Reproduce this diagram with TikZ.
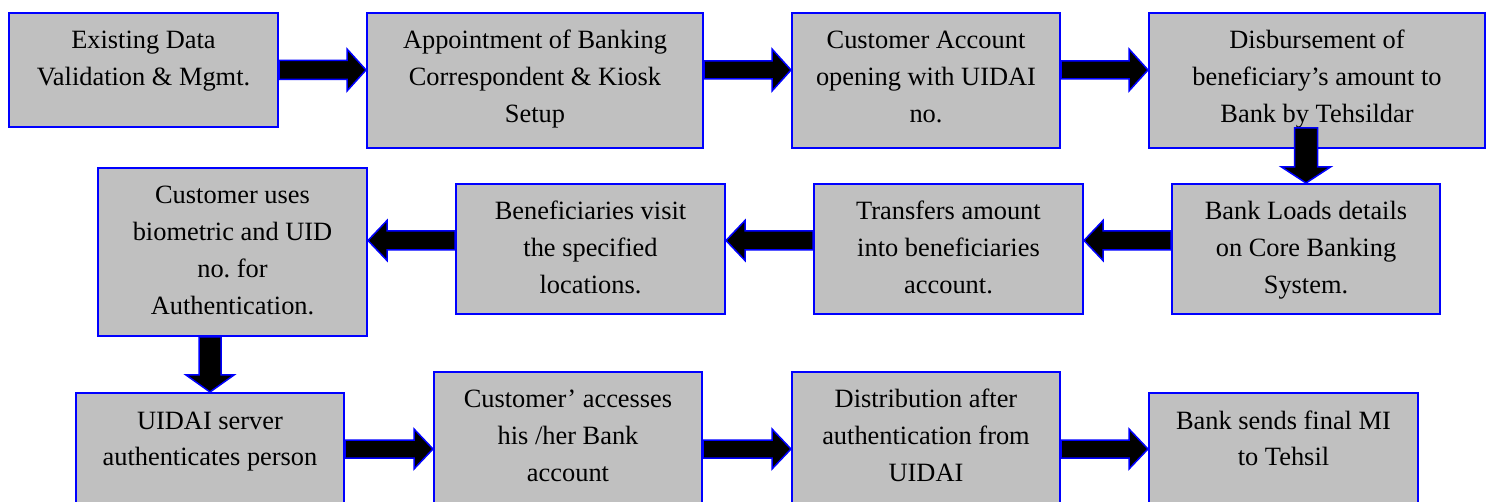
\documentclass[tikz,border=0pt]{standalone}
\usepackage{fontspec}
\setmainfont{Liberation Serif}
\usetikzlibrary{calc}
\frenchspacing
\definecolor{boxgray}{HTML}{C0C0C0}
\definecolor{boxblue}{HTML}{0000FF}
\newcommand\boxcontent[3]{\parbox[c][#2pt][t]{#1pt}{\centering\fontsize{26.4}{36.7}\selectfont\rule{0pt}{36pt}#3}}
% #1 start, #2 tip, #3 shaft half width, #4 head half width, #5 head length
\newcommand\blockarrow[5]{%
  \coordinate (bahead) at ($(#2)!#5!(#1)$);
  \draw[barrow] ($(#1)!#3!90:(#2)$) -- ($(bahead)!#3!-90:(#1)$) -- ($(bahead)!#4!-90:(#1)$) -- (#2)
    -- ($(bahead)!#4!90:(#1)$) -- ($(bahead)!#3!90:(#1)$) -- ($(#1)!#3!-90:(#2)$) -- cycle;}
\begin{document}
\begin{tikzpicture}[x=1pt,y=-1pt,
  flowbox/.style={draw=boxblue, fill=boxgray, line width=2pt, inner sep=0pt, anchor=north west},
  barrow/.style={fill=black, draw=boxblue, line width=1.5pt, line join=miter}]
\useasboundingbox (0,0) rectangle (1486,502);
% row 1
\node[flowbox] (b1) at (8,12) {\boxcontent{269}{114}{Existing Data\\Validation \& Mgmt.}};
\node[flowbox] (b2) at (366,12) {\boxcontent{336}{135}{Appointment of Banking\\Correspondent \& Kiosk\\Setup}};
\node[flowbox] (b3) at (791,12) {\boxcontent{268}{135}{Customer Account\\opening with UIDAI\\no.}};
\node[flowbox] (b4) at (1148,12) {\boxcontent{336}{135}{Disbursement of\\beneficiary’s amount to\\Bank by Tehsildar}};
% row 2
\node[flowbox] (b5) at (1171,183) {\boxcontent{268}{130}{Bank Loads details\\on Core Banking\\System.}};
\node[flowbox] (b6) at (813,183) {\boxcontent{269}{130}{Transfers amount\\into beneficiaries\\account.}};
\node[flowbox] (b7) at (455,183) {\boxcontent{269}{130}{Beneficiaries visit\\the specified\\locations.}};
\node[flowbox] (b8) at (97,167) {\boxcontent{269}{168}{Customer uses\\biometric and UID\\no. for\\Authentication.}};
% row 3
\node[flowbox] (b9) at (75,392) {\boxcontent{268}{120}{UIDAI server\\authenticates person}};
\node[flowbox] (b10) at (433,371) {\boxcontent{268}{141}{Customer’ accesses\\his /her Bank\\account}};
\node[flowbox] (b11) at (791,371) {\boxcontent{268}{141}{Distribution after\\authentication from\\UIDAI}};
\node[flowbox] (b12) at (1148,392) {\boxcontent{269}{120}{Bank sends final MI\\to Tehsil}};
% arrow levels
\coordinate (r2) at (0,240.5);
\coordinate (r3) at (0,449);
% row 1 arrows
\blockarrow{b1.east}{b2.west |- b1.east}{9.5pt}{21pt}{19pt}
\blockarrow{b2.east |- b1.east}{b3.west |- b1.east}{9pt}{21pt}{19pt}
\blockarrow{b3.east |- b1.east}{b4.west |- b1.east}{9pt}{21pt}{19pt}
% down to row 2
\blockarrow{b5.north |- b1.south}{b5.north}{11.5pt}{24.5pt}{16pt}
% row 2 arrows
\blockarrow{b5.west |- r2}{b6.east |- r2}{9.5pt}{20pt}{19pt}
\blockarrow{b6.west |- r2}{b7.east |- r2}{9.5pt}{20pt}{19pt}
\blockarrow{b7.west |- r2}{b8.east |- r2}{9.5pt}{20pt}{19pt}
% down to row 3
\blockarrow{b9.north |- b8.south}{b9.north}{11pt}{24pt}{17pt}
% row 3 arrows
\blockarrow{b9.east |- r3}{b10.west |- r3}{9pt}{20pt}{19pt}
\blockarrow{b10.east |- r3}{b11.west |- r3}{9pt}{20pt}{19pt}
\blockarrow{b11.east |- r3}{b12.west |- r3}{9pt}{20pt}{19pt}
\end{tikzpicture}
\end{document}
